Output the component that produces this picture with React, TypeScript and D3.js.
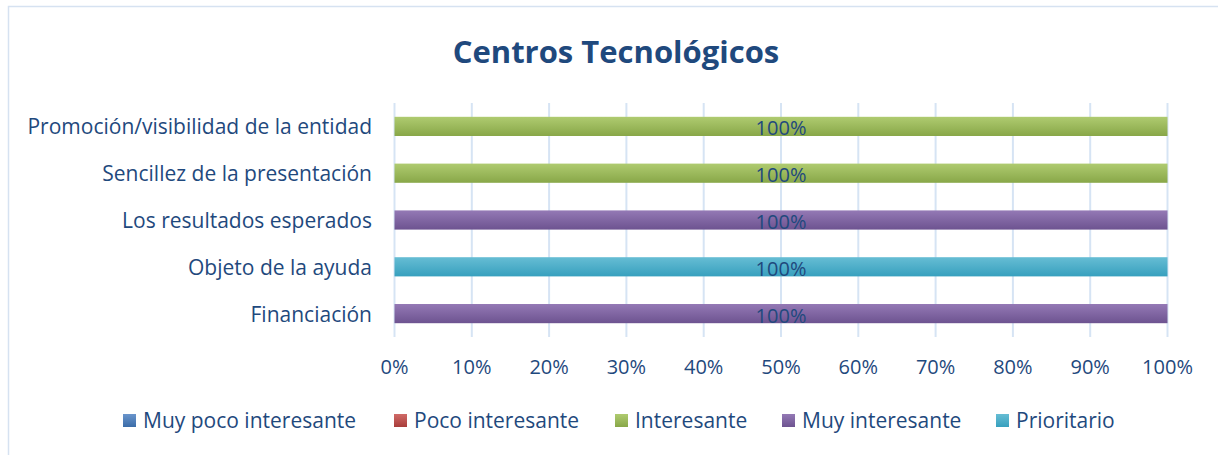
import React, { useEffect, useRef } from 'react';
import * as d3 from 'd3';

// categories, bottom to top as Excel draws them
const categories = [
  'Financiación',
  'Objeto de la ayuda',
  'Los resultados esperados',
  'Sencillez de la presentación',
  'Promoción/visibilidad de la entidad',
];
const seriesNames = ['Muy poco interesante', 'Poco interesante', 'Interesante', 'Muy interesante', 'Prioritario'];
const muyPoco = [0, 0, 0, 0, 0];
const poco = [0, 0, 0, 0, 0];
const interesante = [0, 0, 0, 1, 1];
const muyInteresante = [1, 0, 1, 0, 0];
const prioritario = [0, 1, 0, 0, 0];
const xTicks = [0, 0.1, 0.2, 0.3, 0.4, 0.5, 0.6, 0.7, 0.8, 0.9, 1];

const colors = ['#4F81BD', '#C0504D', '#9BBB59', '#8064A2', '#4BACC6'];
const light = ['#6A95CC', '#D06A67', '#AFCB70', '#9479B5', '#66BDD4'];
const dark = ['#3B6CA8', '#A83D3A', '#88A748', '#6D5390', '#37A0BE'];
const textColor = '#1F497D';
const font = '"Open Sans", sans-serif';

export default function App() {
  const ref = useRef<SVGSVGElement>(null);

  useEffect(() => {
    const width = 1218, height = 455;
    const svg = d3.select(ref.current);
    svg.selectAll('*').remove();

    const rows = categories.map((c, i) => ({
      cat: c,
      [seriesNames[0]]: muyPoco[i],
      [seriesNames[1]]: poco[i],
      [seriesNames[2]]: interesante[i],
      [seriesNames[3]]: muyInteresante[i],
      [seriesNames[4]]: prioritario[i],
    }));
    const stacked = d3.stack<any>().keys(seriesNames).offset(d3.stackOffsetExpand)(rows);

    const x = d3.scaleLinear().domain([0, 1]).range([394.5, 1167.5]);
    const y = d3.scaleBand().domain([...categories].reverse()).range([103, 337]).paddingInner(0.59).paddingOuter(0.295);

    const defs = svg.append('defs');
    colors.forEach((c, i) => {
      const g = defs.append('linearGradient').attr('id', `grad${i}`).attr('x1', 0).attr('y1', 0).attr('x2', 0).attr('y2', 1);
      g.append('stop').attr('offset', '0%').attr('stop-color', light[i]);
      g.append('stop').attr('offset', '100%').attr('stop-color', dark[i]);
    });

    // chart frame
    svg.append('rect').attr('x', 8.5).attr('y', 6.5).attr('width', width).attr('height', height)
      .attr('fill', 'white').attr('stroke', '#D6E2F1').attr('stroke-width', 1.5);

    svg.append('text').attr('x', 616).attr('y', 63).attr('text-anchor', 'middle')
      .attr('font-family', font).attr('font-weight', 'bold').attr('font-size', 31)
      .attr('fill', textColor).text('Centros Tecnológicos');

    // gridlines
    svg.append('g').selectAll('line').data(xTicks).join('line')
      .attr('x1', d => x(d)).attr('x2', d => x(d)).attr('y1', 103).attr('y2', 337)
      .attr('stroke', '#D6E4F4').attr('stroke-width', 2);

    // x tick labels
    svg.append('g').selectAll('text').data(xTicks).join('text')
      .attr('x', d => x(d)).attr('y', 374).attr('text-anchor', 'middle')
      .attr('font-family', font).attr('font-size', 20).attr('fill', textColor)
      .text(d => d3.format('.0%')(d));

    // category labels
    svg.append('g').selectAll('text').data(categories).join('text')
      .attr('x', 372).attr('y', d => y(d)! + y.bandwidth() / 2 + 8).attr('text-anchor', 'end')
      .attr('font-family', font).attr('font-size', 21).attr('fill', textColor)
      .text(d => d);

    // bars
    stacked.forEach((layer, si) => {
      const g = svg.append('g');
      g.selectAll('rect').data(layer.filter(d => d[1] - d[0] > 0)).join('rect')
        .attr('x', d => x(d[0])).attr('width', d => x(d[1]) - x(d[0]))
        .attr('y', d => y(d.data.cat)!).attr('height', y.bandwidth())
        .attr('fill', `url(#grad${si})`);
      g.selectAll('text').data(layer.filter(d => d[1] - d[0] > 0)).join('text')
        .attr('x', d => (x(d[0]) + x(d[1])) / 2).attr('y', d => y(d.data.cat)! + y.bandwidth() / 2 + 9)
        .attr('text-anchor', 'middle').attr('font-family', font).attr('font-size', 20).attr('fill', textColor)
        .text(d => d3.format('.0%')(d[1] - d[0]));
    });

    // legend
    const legendX = [123, 394, 615, 782, 996];
    const lg = svg.append('g').selectAll('g').data(seriesNames).join('g')
      .attr('transform', (d, i) => `translate(${legendX[i]},414)`);
    lg.append('rect').attr('width', 13).attr('height', 13).attr('fill', (d, i) => `url(#grad${i})`);
    lg.append('text').attr('x', 20).attr('y', 14).attr('font-family', font).attr('font-size', 21)
      .attr('fill', textColor).text(d => d);
  }, []);

  return (
    <svg ref={ref} width={1218} height={455} style={{ position: 'absolute', left: 0, top: 0 }} />
  );
}
